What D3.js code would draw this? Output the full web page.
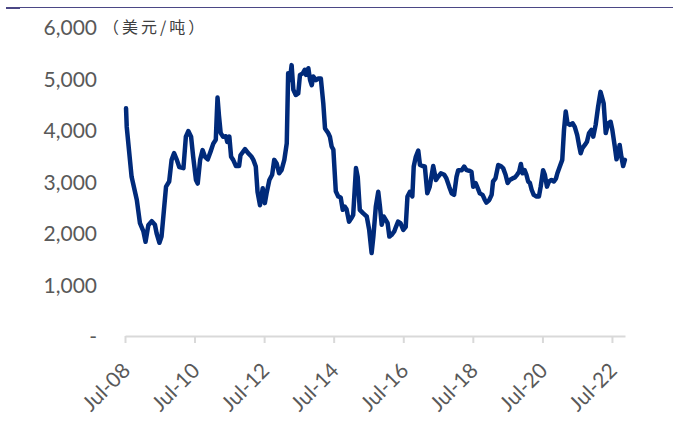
<!DOCTYPE html>
<html>
<head>
<meta charset="utf-8">
<script src="https://cdn.jsdelivr.net/npm/d3@7/dist/d3.min.js"></script>
<style>
  html, body { margin: 0; padding: 0; background: #ffffff; }
  svg { display: block; }
</style>
</head>
<body>
<svg id="chart" width="673" height="428"></svg>
<script>
// Aluminium price, USD per tonne (decimal-year time stamps)
const dateYears = [
  2008.53, 2008.55, 2008.69, 2008.84, 2008.93, 2009.03, 2009.09, 2009.17, 2009.27, 2009.36,
  2009.41, 2009.49, 2009.55, 2009.62, 2009.68, 2009.77, 2009.84, 2009.91, 2009.99, 2010.06,
  2010.18, 2010.25, 2010.32, 2010.40, 2010.46, 2010.54, 2010.59, 2010.66, 2010.73, 2010.80,
  2010.88, 2010.96, 2011.04, 2011.11, 2011.14, 2011.16, 2011.20, 2011.25, 2011.32, 2011.40,
  2011.44, 2011.50, 2011.55, 2011.61, 2011.69, 2011.78, 2011.82, 2011.95, 2012.04, 2012.14,
  2012.19, 2012.26, 2012.31, 2012.38, 2012.46, 2012.52, 2012.57, 2012.65, 2012.73, 2012.79,
  2012.86, 2012.93, 2013.00, 2013.08, 2013.15, 2013.19, 2013.24, 2013.29, 2013.34, 2013.41,
  2013.48, 2013.53, 2013.61, 2013.67, 2013.70, 2013.77, 2013.82, 2013.87, 2013.91, 2013.99,
  2014.06, 2014.13, 2014.20, 2014.25, 2014.34, 2014.39, 2014.44, 2014.49, 2014.56, 2014.63,
  2014.70, 2014.76, 2014.82, 2014.87, 2014.94, 2015.01, 2015.06, 2015.14, 2015.19, 2015.25,
  2015.35, 2015.45, 2015.52, 2015.59, 2015.64, 2015.71, 2015.78, 2015.83, 2015.88, 2015.94,
  2016.00, 2016.05, 2016.10, 2016.16, 2016.24, 2016.29, 2016.35, 2016.42, 2016.50, 2016.57,
  2016.62, 2016.69, 2016.76, 2016.80, 2016.86, 2016.93, 2016.98, 2017.05, 2017.12, 2017.19,
  2017.26, 2017.36, 2017.44, 2017.50, 2017.58, 2017.68, 2017.74, 2017.82, 2017.89, 2017.96,
  2018.03, 2018.08, 2018.18, 2018.25, 2018.32, 2018.39, 2018.46, 2018.51, 2018.58, 2018.64,
  2018.70, 2018.78, 2018.84, 2018.89, 2018.97, 2019.04, 2019.08, 2019.15, 2019.23, 2019.30,
  2019.37, 2019.44, 2019.50, 2019.56, 2019.64, 2019.71, 2019.77, 2019.83, 2019.88, 2019.93,
  2019.99, 2020.04, 2020.09, 2020.14, 2020.19, 2020.25, 2020.33, 2020.40, 2020.45, 2020.52,
  2020.57, 2020.63, 2020.69, 2020.76, 2020.83, 2020.89, 2020.93, 2021.00, 2021.07, 2021.12,
  2021.17, 2021.22, 2021.29, 2021.37, 2021.43, 2021.50, 2021.56, 2021.60, 2021.65, 2021.72,
  2021.78, 2021.84, 2021.91, 2021.96, 2022.03, 2022.10, 2022.17, 2022.22, 2022.26, 2022.32,
  2022.39, 2022.46, 2022.51, 2022.58, 2022.63, 2022.68, 2022.72, 2022.77, 2022.82, 2022.87
];

const prices = [
  4420, 4060, 3090, 2640, 2190, 2030, 1830, 2150, 2230, 2160,
  1990, 1810, 1930, 2450, 2900, 3000, 3420, 3550, 3420, 3280,
  3260, 3870, 3980, 3870, 3480, 3030, 2960, 3420, 3610, 3480,
  3430, 3580, 3740, 3810, 4320, 4630, 4290, 3940, 3870, 3880,
  3770, 3870, 3480, 3420, 3300, 3300, 3510, 3630, 3550, 3480,
  3420, 3290, 2800, 2540, 2870, 2580, 2770, 3030, 3130, 3420,
  3350, 3160, 3220, 3420, 3740, 5100, 4970, 5260, 4780, 4680,
  4710, 5070, 5100, 5170, 5070, 5200, 4970, 4870, 5040, 4970,
  5000, 5000, 4520, 4030, 3940, 3870, 3680, 3620, 2810, 2710,
  2690, 2450, 2510, 2460, 2220, 2290, 2350, 3260, 3090, 2450,
  2380, 2320, 2060, 1610, 1930, 2510, 2800, 2510, 2160, 2320,
  2250, 2190, 1930, 1960, 2030, 2120, 2220, 2190, 2060, 2120,
  2710, 2800, 2710, 3290, 3480, 3600, 3320, 3300, 3290, 2770,
  2900, 3300, 3030, 3090, 3160, 3130, 3060, 2900, 2770, 2740,
  3090, 3220, 3220, 3290, 3220, 3210, 3190, 2900, 2970, 2870,
  2770, 2740, 2650, 2590, 2640, 2740, 3000, 3060, 3320, 3300,
  3260, 3130, 2970, 3030, 3060, 3080, 3130, 3190, 3340, 3160,
  3220, 3130, 3000, 2970, 2840, 2740, 2710, 2710, 2900, 3220,
  3130, 2900, 3000, 3030, 3000, 3060, 3160, 3290, 3420, 4000,
  4360, 4130, 4100, 4130, 4060, 3900, 3680, 3550, 3650, 3710,
  3770, 3940, 4000, 3870, 4100, 4450, 4740, 4620, 4520, 3940,
  4130, 4160, 4000, 3680, 3430, 3550, 3710, 3480, 3300, 3420
];

const yTicks = [0, 1000, 2000, 3000, 4000, 5000, 6000];
const xTickYears = [2008, 2010, 2012, 2014, 2016, 2018, 2020, 2022];
const xTickLabels = ["Jul-08", "Jul-10", "Jul-12", "Jul-14", "Jul-16", "Jul-18", "Jul-20", "Jul-22"];
const unitLabel = "（美元/吨）";

const DAY = 864e5;
const julyFirst2008 = Date.UTC(2008, 6, 1);
const toDate = t => new Date(julyFirst2008 + (t - 2008.5) * 365.25 * DAY);

const svg = d3.select("#chart");
const latin = "Lato, 'Open Sans', 'Liberation Sans', sans-serif";
const labelGrey = "#595959";

// header rule
svg.append("line")
  .attr("x1", 20).attr("x2", 673).attr("y1", 7.5).attr("y2", 7.5)
  .attr("stroke", "#4b4785").attr("stroke-width", 1.2);
svg.append("line")
  .attr("x1", 6).attr("x2", 20).attr("y1", 8).attr("y2", 8)
  .attr("stroke", "#4b4785").attr("stroke-width", 2);

const x = d3.scaleUtc()
  .domain([new Date(julyFirst2008), new Date(Date.UTC(2022, 10, 15))])
  .range([125, 625]);

const y = d3.scaleLinear()
  .domain([0, 6000])
  .range([336, 27]);

// y-axis labels (no axis line)
const yAxis = d3.axisLeft(y)
  .tickValues(yTicks)
  .tickSize(0)
  .tickPadding(0)
  .tickFormat(v => v === 0 ? "-" : d3.format(",")(v));
const gy = svg.append("g").attr("transform", "translate(97,0)").call(yAxis);
gy.select(".domain").remove();
gy.selectAll("text")
  .attr("font-family", latin)
  .attr("font-size", 21)
  .attr("fill", labelGrey)
  .attr("dy", "0.36em");

// unit label beside the top tick
svg.append("text")
  .attr("x", 103).attr("y", 27)
  .attr("dy", "0.36em")
  .attr("font-family", "'Noto Sans CJK SC', sans-serif")
  .attr("font-size", 16)
  .attr("letter-spacing", 3)
  .attr("fill", "#404040")
  .text(unitLabel);

// x axis
const tickDates = xTickYears.map(yr => new Date(Date.UTC(yr, 6, 1)));
const xAxis = d3.axisBottom(x)
  .tickValues(tickDates)
  .tickSize(7)
  .tickSizeOuter(0)
  .tickFormat((d, i) => xTickLabels[i]);
const gx = svg.append("g").attr("transform", "translate(0,336)").call(xAxis);
gx.select(".domain").attr("stroke", "#d9d9d9").attr("stroke-width", 2);
gx.selectAll(".tick line").attr("stroke", "#d9d9d9").attr("stroke-width", 2);
gx.selectAll(".tick text")
  .attr("font-family", latin)
  .attr("font-size", 21)
  .attr("fill", labelGrey)
  .attr("text-anchor", "end")
  .attr("y", 0).attr("dy", 0)
  .attr("transform", "translate(6,36) rotate(-45)");

// price line
const line = d3.line()
  .x((d, i) => x(toDate(dateYears[i])))
  .y(d => y(d));

svg.append("path")
  .datum(prices)
  .attr("fill", "none")
  .attr("stroke", "#002a7a")
  .attr("stroke-width", 4.5)
  .attr("stroke-linejoin", "round")
  .attr("stroke-linecap", "round")
  .attr("d", line);
</script>
</body>
</html>
